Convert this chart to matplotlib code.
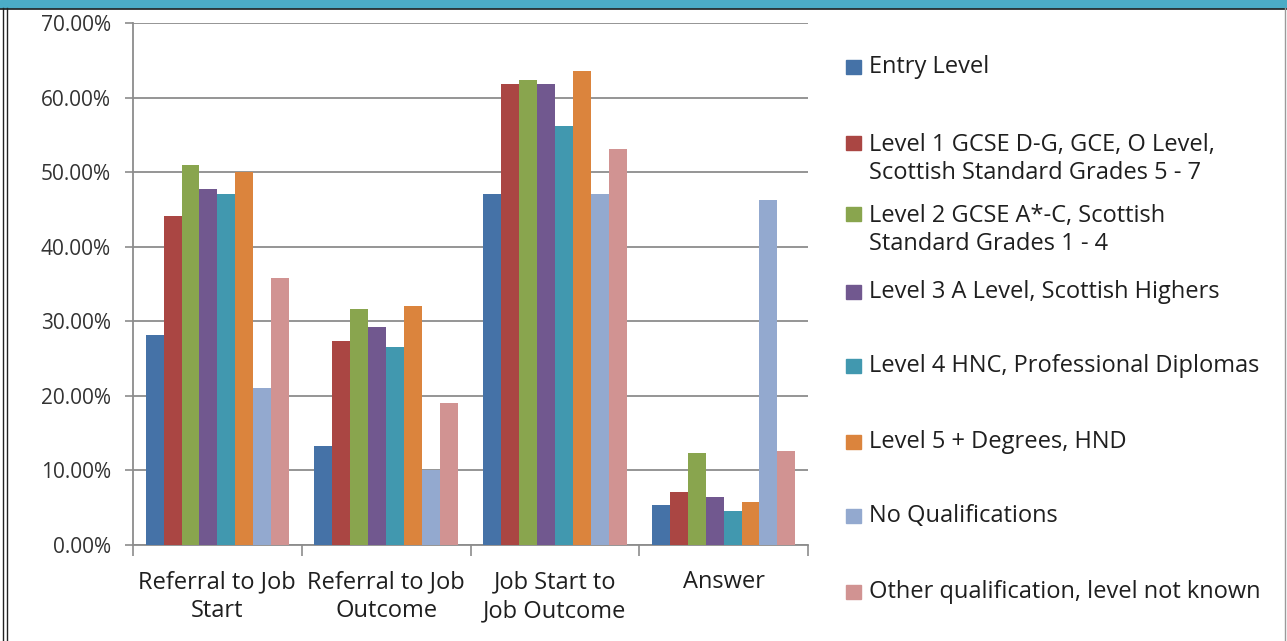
import matplotlib

matplotlib.use("Agg")
import matplotlib.pyplot as plt
import numpy as np
from matplotlib.patches import Rectangle
from matplotlib.lines import Line2D
from matplotlib.ticker import PercentFormatter

plt.rcParams["font.family"] = ["Open Sans", "DejaVu Sans"]

categories = ["Referral to Job\nStart", "Referral to Job\nOutcome", "Job Start to\nJob Outcome", "Answer"]

series_names = [
    "Entry Level",
    "Level 1 GCSE D-G, GCE, O Level,\nScottish Standard Grades 5 - 7",
    "Level 2 GCSE A*-C, Scottish\nStandard Grades 1 - 4",
    "Level 3 A Level, Scottish Highers",
    "Level 4 HNC, Professional Diplomas",
    "Level 5 + Degrees, HND",
    "No Qualifications",
    "Other qualification, level not known",
]

# percent, one list per series (order of categories above)
entry_level = [28.1, 13.3, 47.1, 5.3]
level_1 = [44.1, 27.3, 61.8, 7.1]
level_2 = [51.0, 31.7, 62.4, 12.4]
level_3 = [47.7, 29.3, 61.8, 6.4]
level_4 = [47.1, 26.5, 56.2, 4.6]
level_5 = [50.0, 32.0, 63.6, 5.8]
no_quals = [21.0, 10.1, 47.1, 46.2]
other_qual = [35.8, 19.0, 53.1, 12.6]

series_values = [entry_level, level_1, level_2, level_3, level_4, level_5, no_quals, other_qual]

colors = ["#4572A7", "#AA4643", "#89A54E", "#71588F", "#4198AF", "#DB843D", "#93A9CF", "#D19392"]

# legend entry centres in figure pixels (from top)
legend_y_px = [67, 159, 230, 292, 366, 442, 516, 592]

W, H = 1287, 641
TEXT = "#1f1f1f"
GRID = "#8c8c8c"

fig = plt.figure(figsize=(W / 100, H / 100), dpi=100)
ax = fig.add_axes([133 / W, (H - 545) / H, (808 - 133) / W, (545 - 23) / H])

n_series = len(series_values)
x = np.arange(len(categories))
group_w = 0.85
bar_w = group_w / n_series
for i, (vals, col) in enumerate(zip(series_values, colors)):
    offs = -group_w / 2 + bar_w * (i + 0.5)
    ax.bar(x + offs, vals, width=bar_w, color=col, edgecolor="none", zorder=3)

ax.set_xlim(-0.5, len(categories) - 0.5)
ax.set_ylim(0, 70)
ax.set_yticks(np.arange(0, 71, 10))
ax.yaxis.set_major_formatter(PercentFormatter(decimals=2))
ax.grid(axis="y", color=GRID, linewidth=1.3, zorder=0)
ax.set_axisbelow(True)

ax.set_xticks(x)
ax.set_xticklabels(categories, fontsize=17, color=TEXT, linespacing=1.28)
ax.tick_params(axis="x", length=0, pad=18)
ax.set_xticks(np.arange(-0.5, len(categories)), minor=True)
ax.tick_params(axis="x", which="minor", length=8, width=1.2, color=GRID)
ax.tick_params(axis="y", length=6, width=1.2, color=GRID, labelsize=15, labelcolor="#333333", pad=10)

for side in ["top", "right"]:
    ax.spines[side].set_visible(False)
for side in ["left", "bottom"]:
    ax.spines[side].set_color(GRID)
    ax.spines[side].set_linewidth(1.3)

# legend drawn to match Excel spacing
for name, col, ypx in zip(series_names, colors, legend_y_px):
    nlines = name.count("\n") + 1
    top_line_y = ypx - (nlines - 1) * 16
    fig.patches.append(Rectangle((846 / W, 1 - (top_line_y + 7) / H), 15 / W, 14 / H,
                                 transform=fig.transFigure, color=col))
    fig.text(869 / W, 1 - ypx / H, name, fontsize=17, color=TEXT,
             va="center", ha="left", linespacing=1.26)

# title band and frame
fig.patches.append(Rectangle((0, 1 - 8 / H), 1, 8 / H, transform=fig.transFigure, color="#4BACC6"))
fig.lines.append(Line2D([0, 1], [1 - 8.5 / H, 1 - 8.5 / H], transform=fig.transFigure, color="#222222", lw=1.2))
for xp in [2.5, 6.5]:
    fig.lines.append(Line2D([xp / W, xp / W], [0, 1 - 8 / H], transform=fig.transFigure, color="#222222", lw=1.0))
fig.lines.append(Line2D([1285 / W, 1285 / W], [0, 1 - 8 / H], transform=fig.transFigure, color="#9a9a9a", lw=1.0))

fig.savefig("out.png", dpi=100)
